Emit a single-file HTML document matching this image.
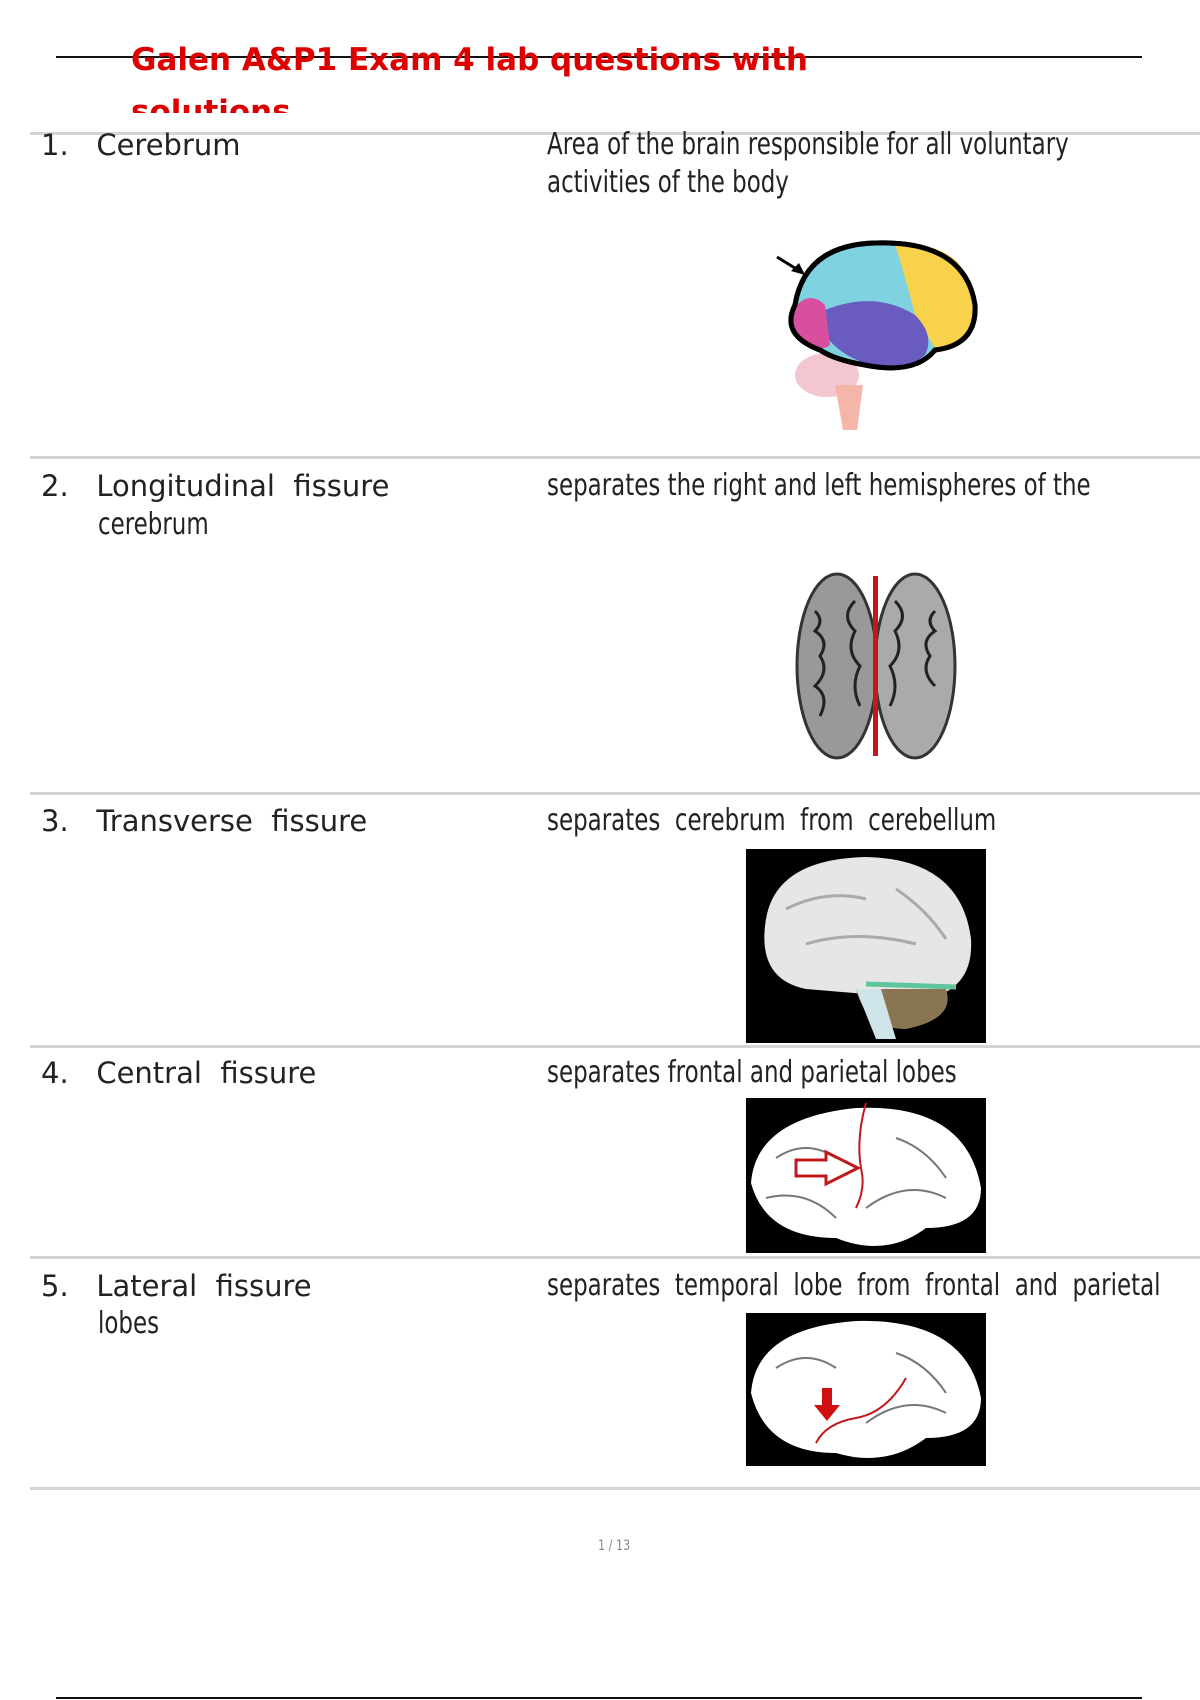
<!DOCTYPE html>
<html><head><meta charset="utf-8"><style>
body{margin:0;width:1200px;height:1700px;background:#fff;position:relative;overflow:hidden;font-family:"DejaVu Sans","Liberation Sans",sans-serif}
.a{position:absolute;white-space:nowrap}
.hl{position:absolute;left:30px;width:1170px;height:3px;background:#d4d4d4}
.t{font-size:29px;color:#222;line-height:30px}
.d{font-size:30px;color:#222;transform:scaleX(0.765);transform-origin:0 0;line-height:38px}
</style></head><body>
<div class="a" style="left:56px;top:56px;width:1086px;height:2px;background:#111"></div>
<div class="a" style="left:131px;top:34px;height:79px;overflow:hidden;font-weight:bold;color:#d00;font-size:31px;line-height:52px">Galen A&amp;P1 Exam 4 lab questions with<br>solutions</div>
<div class="hl" style="top:132px"></div>
<div class="hl" style="top:456px"></div>
<div class="hl" style="top:792px"></div>
<div class="hl" style="top:1045px"></div>
<div class="hl" style="top:1256px"></div>
<div class="hl" style="top:1487px"></div>

<div class="a t" style="left:41px;top:130px">1.&nbsp;&nbsp;&nbsp;Cerebrum</div>
<div class="a d" style="left:547px;top:126px">Area of the brain responsible for all voluntary<br>activities of the body</div>

<div class="a t" style="left:41px;top:471px">2.&nbsp;&nbsp;&nbsp;Longitudinal&nbsp; fissure</div>
<div class="a d" style="left:98px;top:506px">cerebrum</div>
<div class="a d" style="left:547px;top:467px">separates the right and left hemispheres of the</div>

<div class="a t" style="left:41px;top:806px">3.&nbsp;&nbsp;&nbsp;Transverse&nbsp; fissure</div>
<div class="a d" style="left:547px;top:802px">separates&nbsp; cerebrum&nbsp; from&nbsp; cerebellum</div>

<div class="a t" style="left:41px;top:1058px">4.&nbsp;&nbsp;&nbsp;Central&nbsp; fissure</div>
<div class="a d" style="left:547px;top:1054px">separates frontal and parietal lobes</div>

<div class="a t" style="left:41px;top:1271px">5.&nbsp;&nbsp;&nbsp;Lateral&nbsp; fissure</div>
<div class="a d" style="left:98px;top:1305px">lobes</div>
<div class="a d" style="left:547px;top:1267px">separates&nbsp; temporal&nbsp; lobe&nbsp; from&nbsp; frontal&nbsp; and&nbsp; parietal</div>

<!-- brain 1 -->
<svg class="a" style="left:765px;top:235px" width="230" height="200">
<path d="M12 22 L38 38" stroke="#000" stroke-width="3"/><path d="M40 40 L26 36 L34 28Z" fill="#000"/>
<ellipse cx="62" cy="140" rx="32" ry="22" fill="#f4c6d0"/>
<path d="M70 150 L78 195 L92 195 L98 150Z" fill="#f5b5a8"/>
<path d="M30 70 Q40 10 110 8 Q200 5 210 70 Q212 110 170 115 Q150 140 100 130 Q70 125 55 115 Q15 100 30 70Z" fill="#7fd3e0" stroke="#000" stroke-width="5"/>
<path d="M130 10 Q205 5 208 70 Q210 108 170 113 L150 80 Q140 40 130 10Z" fill="#f7d24a"/>
<path d="M60 75 Q110 55 150 80 Q170 100 160 120 Q140 138 100 128 Q75 120 60 100Z" fill="#6a5bbf"/>
<path d="M30 72 Q45 55 60 70 L65 110 Q55 118 40 108 Q22 95 30 72Z" fill="#d84fa0"/>
<path d="M30 70 Q40 10 110 8 Q200 5 210 70 Q212 110 170 115 Q150 140 100 130 Q70 125 55 115 Q15 100 30 70Z" fill="none" stroke="#000" stroke-width="5"/>
</svg>
<!-- brain 2 -->
<svg class="a" style="left:795px;top:571px" width="162" height="190">
<ellipse cx="42" cy="95" rx="40" ry="92" fill="#999" stroke="#333" stroke-width="3"/>
<ellipse cx="120" cy="95" rx="40" ry="92" fill="#aaa" stroke="#333" stroke-width="3"/>
<path d="M20 40 q10 10 0 20 q15 10 5 25 q10 15 -5 30 q15 10 5 30 M60 30 q-15 15 0 30 q-10 20 5 35 q-10 20 0 40 M100 30 q15 15 0 30 q10 20 -5 35 q10 20 0 40 M140 40 q-10 10 0 20 q-15 10 -5 25 q-10 15 5 30" stroke="#222" stroke-width="3" fill="none"/>
<rect x="78" y="5" width="5" height="180" fill="#c0181c"/>
</svg>
<!-- image 3 -->
<svg class="a" style="left:746px;top:849px" width="240" height="194">
<rect width="240" height="194" fill="#000"/>
<path d="M20 70 Q30 10 120 8 Q215 10 225 90 Q228 140 180 150 L60 140 Q10 130 20 70Z" fill="#e6e6e6"/>
<path d="M110 140 L200 140 Q210 170 160 180 Q120 180 110 140Z" fill="#8a7553"/>
<path d="M120 135 L210 138" stroke="#5fc59a" stroke-width="5"/>
<path d="M110 140 L130 190 L150 190 L135 140Z" fill="#cfe4e8"/>
<path d="M40 60 q40 -20 80 -10 M60 95 q50 -15 110 0 M150 40 q30 20 50 50" stroke="#aaa" stroke-width="3" fill="none"/>
</svg>
<!-- image 4 -->
<svg class="a" style="left:746px;top:1098px" width="240" height="155">
<rect width="240" height="155" fill="#000"/>
<path d="M5 85 Q10 20 110 10 Q220 5 235 90 Q235 130 180 130 Q140 160 90 140 Q20 140 5 85Z" fill="#fff"/>
<path d="M30 60 q30 -20 60 0 M20 100 q40 -10 70 20 M150 40 q30 10 50 40 M120 110 q40 -30 80 -10" stroke="#777" stroke-width="2" fill="none"/>
<path d="M120 5 Q110 40 115 70 Q120 90 110 110" stroke="#c0181c" stroke-width="2" fill="none"/>
<path d="M50 62 L80 62 L80 54 L112 70 L80 86 L80 78 L50 78Z" fill="none" stroke="#c0181c" stroke-width="3"/>
</svg>
<!-- image 5 -->
<svg class="a" style="left:746px;top:1313px" width="240" height="153">
<rect width="240" height="153" fill="#000"/>
<path d="M5 80 Q10 15 110 8 Q220 5 235 85 Q235 125 180 125 Q140 155 90 140 Q20 140 5 80Z" fill="#fff"/>
<path d="M30 55 q30 -20 60 0 M150 40 q30 10 50 40 M120 110 q40 -30 80 -10" stroke="#777" stroke-width="2" fill="none"/>
<path d="M70 130 Q80 110 110 105 Q140 100 160 65" stroke="#c0181c" stroke-width="2" fill="none"/>
<path d="M76 75 L86 75 L86 92 L94 92 L81 108 L68 92 L76 92Z" fill="#d01010"/>
</svg>

<div class="a" style="left:598px;top:1538px;font-size:14px;color:#888;transform:scaleX(0.8);transform-origin:0 0">1 / 13</div>
<div class="a" style="left:56px;top:1697px;width:1086px;height:2px;background:#111"></div>
</body></html>
